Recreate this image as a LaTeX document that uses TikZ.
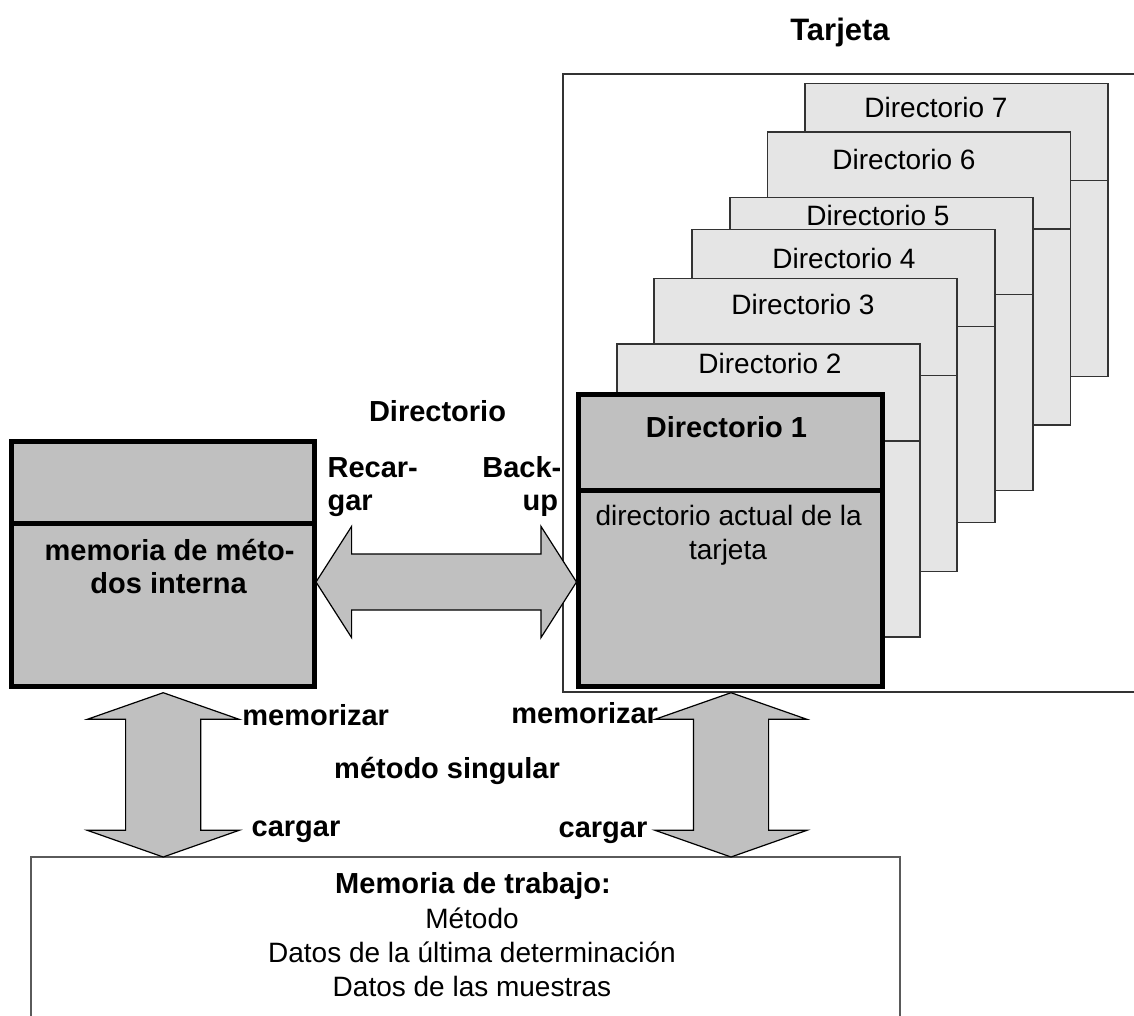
\documentclass[tikz,border=0pt]{standalone}
\usepackage{fontspec}
\setmainfont{Liberation Sans}
\usetikzlibrary{calc}
\definecolor{boxgray}{HTML}{C0C0C0}
\definecolor{dirgray}{HTML}{E5E5E5}
\definecolor{linegray}{HTML}{333333}
\definecolor{wmline}{HTML}{5A5A5A}
\begin{document}
\begin{tikzpicture}[x=1pt,y=-1pt,
  dirbox/.style={draw=linegray, fill=dirgray, line width=1.6pt, minimum width=303pt, minimum height=293pt, inner sep=0pt, outer sep=0pt},
  mainbox/.style={draw=black, fill=boxgray, line width=5pt, inner sep=0pt, outer sep=0pt},
  blockarrow/.style={draw=black, fill=boxgray, line width=1.2pt, line join=miter},
  divline/.style={draw=linegray, line width=1.6pt},
  tframe/.style={draw=linegray, line width=1.5pt},
  lbl/.style={inner sep=0pt, anchor=base, font=\fontsize{29}{33}\selectfont\bfseries},
  txt/.style={inner sep=0pt, anchor=base, font=\fontsize{28}{34}\selectfont},
]
\useasboundingbox (0,0) rectangle (1134,1015);

% Tarjeta frame (open on the right)
\node[inner sep=0pt, anchor=base, font=\fontsize{31}{36}\selectfont\bfseries] (tarj) at (840,40) {Tarjeta};
\draw[tframe] (1134,74) -- (563,74) -- (563,692) -- (1134,692);

% stacked directories (back to front)
\node[dirbox] (d7) at (956.6,229.8) {};
\draw[divline] ($(d7.north west)+(0,97)$) -- ($(d7.north east)+(0,97)$);
\node[txt] (t7) at (936,117) {Directorio 7};

\node[dirbox] (d6) at (919.1,278.7) {};
\draw[divline] ($(d6.north west)+(0,97)$) -- ($(d6.north east)+(0,97)$);
\node[txt] (t6) at (904,169.4) {Directorio 6};

\node[dirbox] (d5) at (881.2,344.1) {};
\draw[divline] ($(d5.north west)+(0,97)$) -- ($(d5.north east)+(0,97)$);
\node[txt] (t5) at (878,225) {Directorio 5};

\node[dirbox] (d4) at (843.4,375.9) {};
\draw[divline] ($(d4.north west)+(0,97)$) -- ($(d4.north east)+(0,97)$);
\node[txt] (t4) at (844,268) {Directorio 4};

\node[dirbox] (d3) at (805.6,424.9) {};
\draw[divline] ($(d3.north west)+(0,97)$) -- ($(d3.north east)+(0,97)$);
\node[txt] (t3) at (803,314) {Directorio 3};

\node[dirbox] (d2) at (768.2,490.2) {};
\draw[divline] ($(d2.north west)+(0,97)$) -- ($(d2.north east)+(0,97)$);
\node[txt] (t2) at (770,373) {Directorio 2};

% Directorio 1 (front)
\node[mainbox, minimum width=304pt, minimum height=292pt] (d1) at (730,540) {};
\draw[draw=black, line width=5pt] ($(d1.north west)+(0,96.3)$) -- ($(d1.north east)+(0,96.3)$);
\node[lbl] (t1) at (726.5,437) {Directorio 1};
\node[txt] (t1a) at (728.7,525) {directorio actual de la};
\node[txt] (t1b) at (728,559) {tarjeta};

% internal method memory
\node[mainbox, minimum width=303pt, minimum height=245pt] (lb) at (162.5,563.5) {};
\draw[draw=black, line width=5pt] ($(lb.north west)+(0,82)$) -- ($(lb.north east)+(0,82)$);
\node[lbl] (lb1) at (169.6,560) {memoria de méto-};
\node[lbl] (lb2) at (168.6,593) {dos interna};

% working memory (open at the bottom)
\draw[draw=wmline, line width=2pt] (31,1020) -- (31,857) -- (900,857) -- (900,1020);
\coordinate (wmtop) at (465.5,857);
\node[lbl] (wm1) at (473,893) {Memoria de trabajo:};
\node[txt] (wm2) at (472,928) {Método};
\node[txt] (wm3) at (472,962) {Datos de la última determinación};
\node[txt] (wm4) at (472,996.5) {Datos de las muestras};

% horizontal double arrow lb <-> d1
\coordinate (hl) at ($(lb.east |- 0,582)+(2,0)$);
\coordinate (hr) at ($(d1.west |- 0,582)+(-1.5,0)$);
\draw[blockarrow] (hl) -- ($(hl)+(35.6,-55.6)$) -- ($(hl)+(35.6,-28)$) -- ($(hr)+(-35.5,-28)$) -- ($(hr)+(-35.5,-55.6)$) -- (hr) -- ($(hr)+(-35.5,55.6)$) -- ($(hr)+(-35.5,28)$) -- ($(hl)+(35.6,28)$) -- ($(hl)+(35.6,55.6)$) -- cycle;
\node[lbl] (hdir) at (437.5,421.7) {Directorio};
\node[lbl, anchor=base west] (rec1) at (327.4,477) {Recar-};
\node[lbl, anchor=base west] (rec2) at (327.4,510) {gar};
\node[lbl, anchor=base east] (bak1) at (561.5,477) {Back-};
\node[lbl, anchor=base east] (bak2) at (558.3,510) {up};

% vertical double arrow lb <-> working memory
\coordinate (at1) at ($(lb.south)+(0.7,6.7)$);
\coordinate (ab1) at (wmtop -| at1);
\draw[blockarrow] (at1) -- ($(at1)+(75.9,26.6)$) -- ($(at1)+(37.6,26.6)$) -- ($(ab1)+(37.6,-26.7)$) -- ($(ab1)+(75.9,-26.7)$) -- (ab1) -- ($(ab1)+(-75.9,-26.7)$) -- ($(ab1)+(-37.6,-26.7)$) -- ($(at1)+(-37.6,26.6)$) -- ($(at1)+(-75.9,26.6)$) -- cycle;

% vertical double arrow d1 <-> working memory
\coordinate (at2) at ($(d1.south)+(1,6.7)$);
\coordinate (ab2) at (wmtop -| at2);
\draw[blockarrow] (at2) -- ($(at2)+(75.9,26.6)$) -- ($(at2)+(37.6,26.6)$) -- ($(ab2)+(37.6,-26.7)$) -- ($(ab2)+(75.9,-26.7)$) -- (ab2) -- ($(ab2)+(-75.9,-26.7)$) -- ($(ab2)+(-37.6,-26.7)$) -- ($(at2)+(-37.6,26.6)$) -- ($(at2)+(-75.9,26.6)$) -- cycle;

% labels of the vertical arrows
\node[lbl] (mem1) at (315.7,725) {memorizar};
\node[lbl] (mem2) at (584.7,723) {memorizar};
\node[lbl] (sing) at (447,778) {método singular};
\node[lbl] (car1) at (296,836) {cargar};
\node[lbl] (car2) at (603,837.5) {cargar};
\end{tikzpicture}
\end{document}
